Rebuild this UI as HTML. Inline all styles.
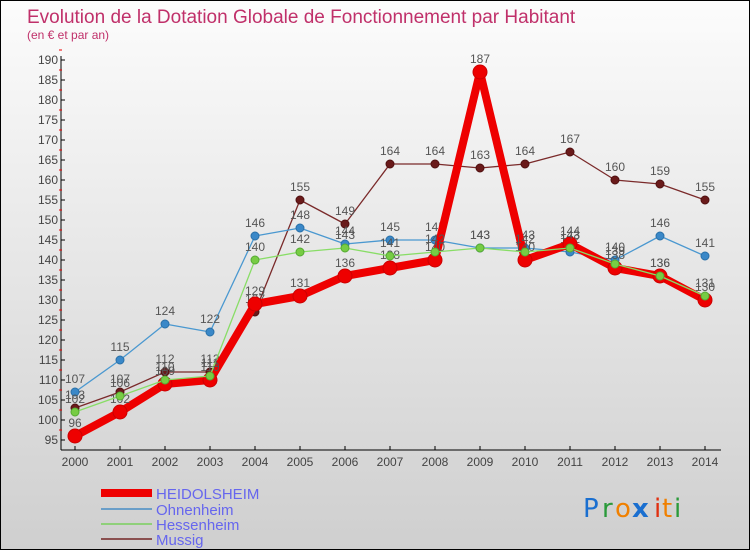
<!DOCTYPE html>
<html><head><meta charset="utf-8"><style>
html,body{margin:0;padding:0}
body{width:750px;height:550px;overflow:hidden;font-family:"Liberation Sans",sans-serif}
#wrap{position:relative;width:748px;height:548px;border:1px solid #000;background:linear-gradient(#fcfcfc,#cfcfcf)}
</style></head><body>
<div id="wrap">
<svg id="chart" width="748" height="548" xmlns="http://www.w3.org/2000/svg">
<text x="26" y="22" font-size="19" fill="#c0306a">Evolution de la Dotation Globale de Fonctionnement par Habitant</text>
<text x="26" y="38" font-size="12" fill="#c0306a">(en € et par an)</text>
<g id="axes"></g>
<g id="series"></g>
<g id="legend">
<rect x="100" y="488" width="51" height="8" fill="#e00"/>
<text x="155" y="498" font-size="15" fill="#6666ee">HEIDOLSHEIM</text>
<rect x="100" y="507" width="51" height="2" fill="#6a9ec8"/>
<text x="155" y="514" font-size="15" fill="#6666ee">Ohnenheim</text>
<rect x="100" y="522" width="51" height="2" fill="#8fd07a"/>
<text x="155" y="529" font-size="15" fill="#6666ee">Hessenheim</text>
<rect x="100" y="537" width="51" height="2" fill="#8a5050"/>
<text x="155" y="544" font-size="15" fill="#6666ee">Mussig</text>
</g>
<g font-size="26" font-family="DejaVu Sans, sans-serif">
<text x="582" y="516" fill="#1a6fd0">P</text><text x="601" y="516" fill="#2a9a3a">r</text><text x="614" y="516" fill="#f08000">o</text><text x="631" y="516" fill="#1a6fd0" font-weight="bold">x</text><text x="653" y="516" fill="#e03010">i</text><text x="661" y="516" fill="#f08000">t</text><text x="673" y="516" fill="#2a9a3a">i</text>
</g>
</svg>
</div>
<script>
const years=[2000,2001,2002,2003,2004,2005,2006,2007,2008,2009,2010,2011,2012,2013,2014];
const yTicks=[95,100,105,110,115,120,125,130,135,140,145,150,155,160,165,170,175,180,185,190];
const heidolsheim=[96,102,109,110,129,131,136,138,140,187,140,144,138,136,130];
const ohnenheim=[107,115,124,122,146,148,144,145,145,143,143,142,140,146,141];
const hessenheim=[102,106,110,111,140,142,143,141,142,143,142,143,139,136,131];
const mussig=[103,107,112,112,127,155,149,164,164,163,164,167,160,159,155];
const NS="http://www.w3.org/2000/svg";
const xS=i=>74+45*i;
const yS=v=>439-(v-95)*4;
function mk(tag,attrs,parent){const e=document.createElementNS(NS,tag);for(const k in attrs)e.setAttribute(k,attrs[k]);parent.appendChild(e);return e;}
const ax=document.getElementById('axes');
const yl=mk('line',{x1:60,y1:55,x2:60,y2:449,stroke:'#000'},ax);


const xl=mk('line',{x1:60,y1:449,x2:720,y2:449,stroke:'#000'},ax);


yTicks.forEach(v=>{
  mk('line',{x1:60,y1:yS(v),x2:64,y2:yS(v),stroke:'#000'},ax);
  mk('line',{x1:58,y1:yS(v)-10,x2:61,y2:yS(v)-10,stroke:'#e00'},ax);
  const t=mk('text',{x:57,y:yS(v)+4,'font-size':12,'text-anchor':'end',fill:'#444'},ax);
  t.textContent=v;
  
  
});
years.forEach((y,i)=>{
  mk('line',{x1:xS(i),y1:445,x2:xS(i),y2:449,stroke:'#000'},ax);
  const t=mk('text',{x:xS(i),y:465,'font-size':12,'text-anchor':'middle',fill:'#444'},ax);
  t.textContent=y;
  
  
});
const sg=document.getElementById('series');
function draw(vals,name,color,w,r,dot,dotStroke){
  const g=mk('g',{},sg);
  
  
  const p=mk('polyline',{points:vals.map((v,i)=>xS(i)+','+yS(v)).join(' '),fill:'none',stroke:color,'stroke-width':w,'stroke-linejoin':'round'},g);
  
  
  vals.forEach((v,i)=>{
    const c=mk('circle',{cx:xS(i),cy:yS(v),r:r,fill:dot,stroke:dotStroke,'stroke-width':1},g);
    
    
    const t=mk('text',{x:xS(i),y:yS(v)-9,'font-size':12,'text-anchor':'middle',fill:'#555'},g);
    t.textContent=v;
    
    
  });
}
draw(mussig,'mussig','#7a2a2a',1.3,4,'#6a1a1a','#501010');
draw(ohnenheim,'ohnenheim','#4a98d0',1.3,4,'#3a88c8','#2a70a8');
draw(heidolsheim,'heidolsheim','#ee0000',8,7,'#ee0000','#cc0000');
draw(hessenheim,'hessenheim','#88dd66',1.3,4,'#77cc44','#55aa33');
</script>
</body></html>
